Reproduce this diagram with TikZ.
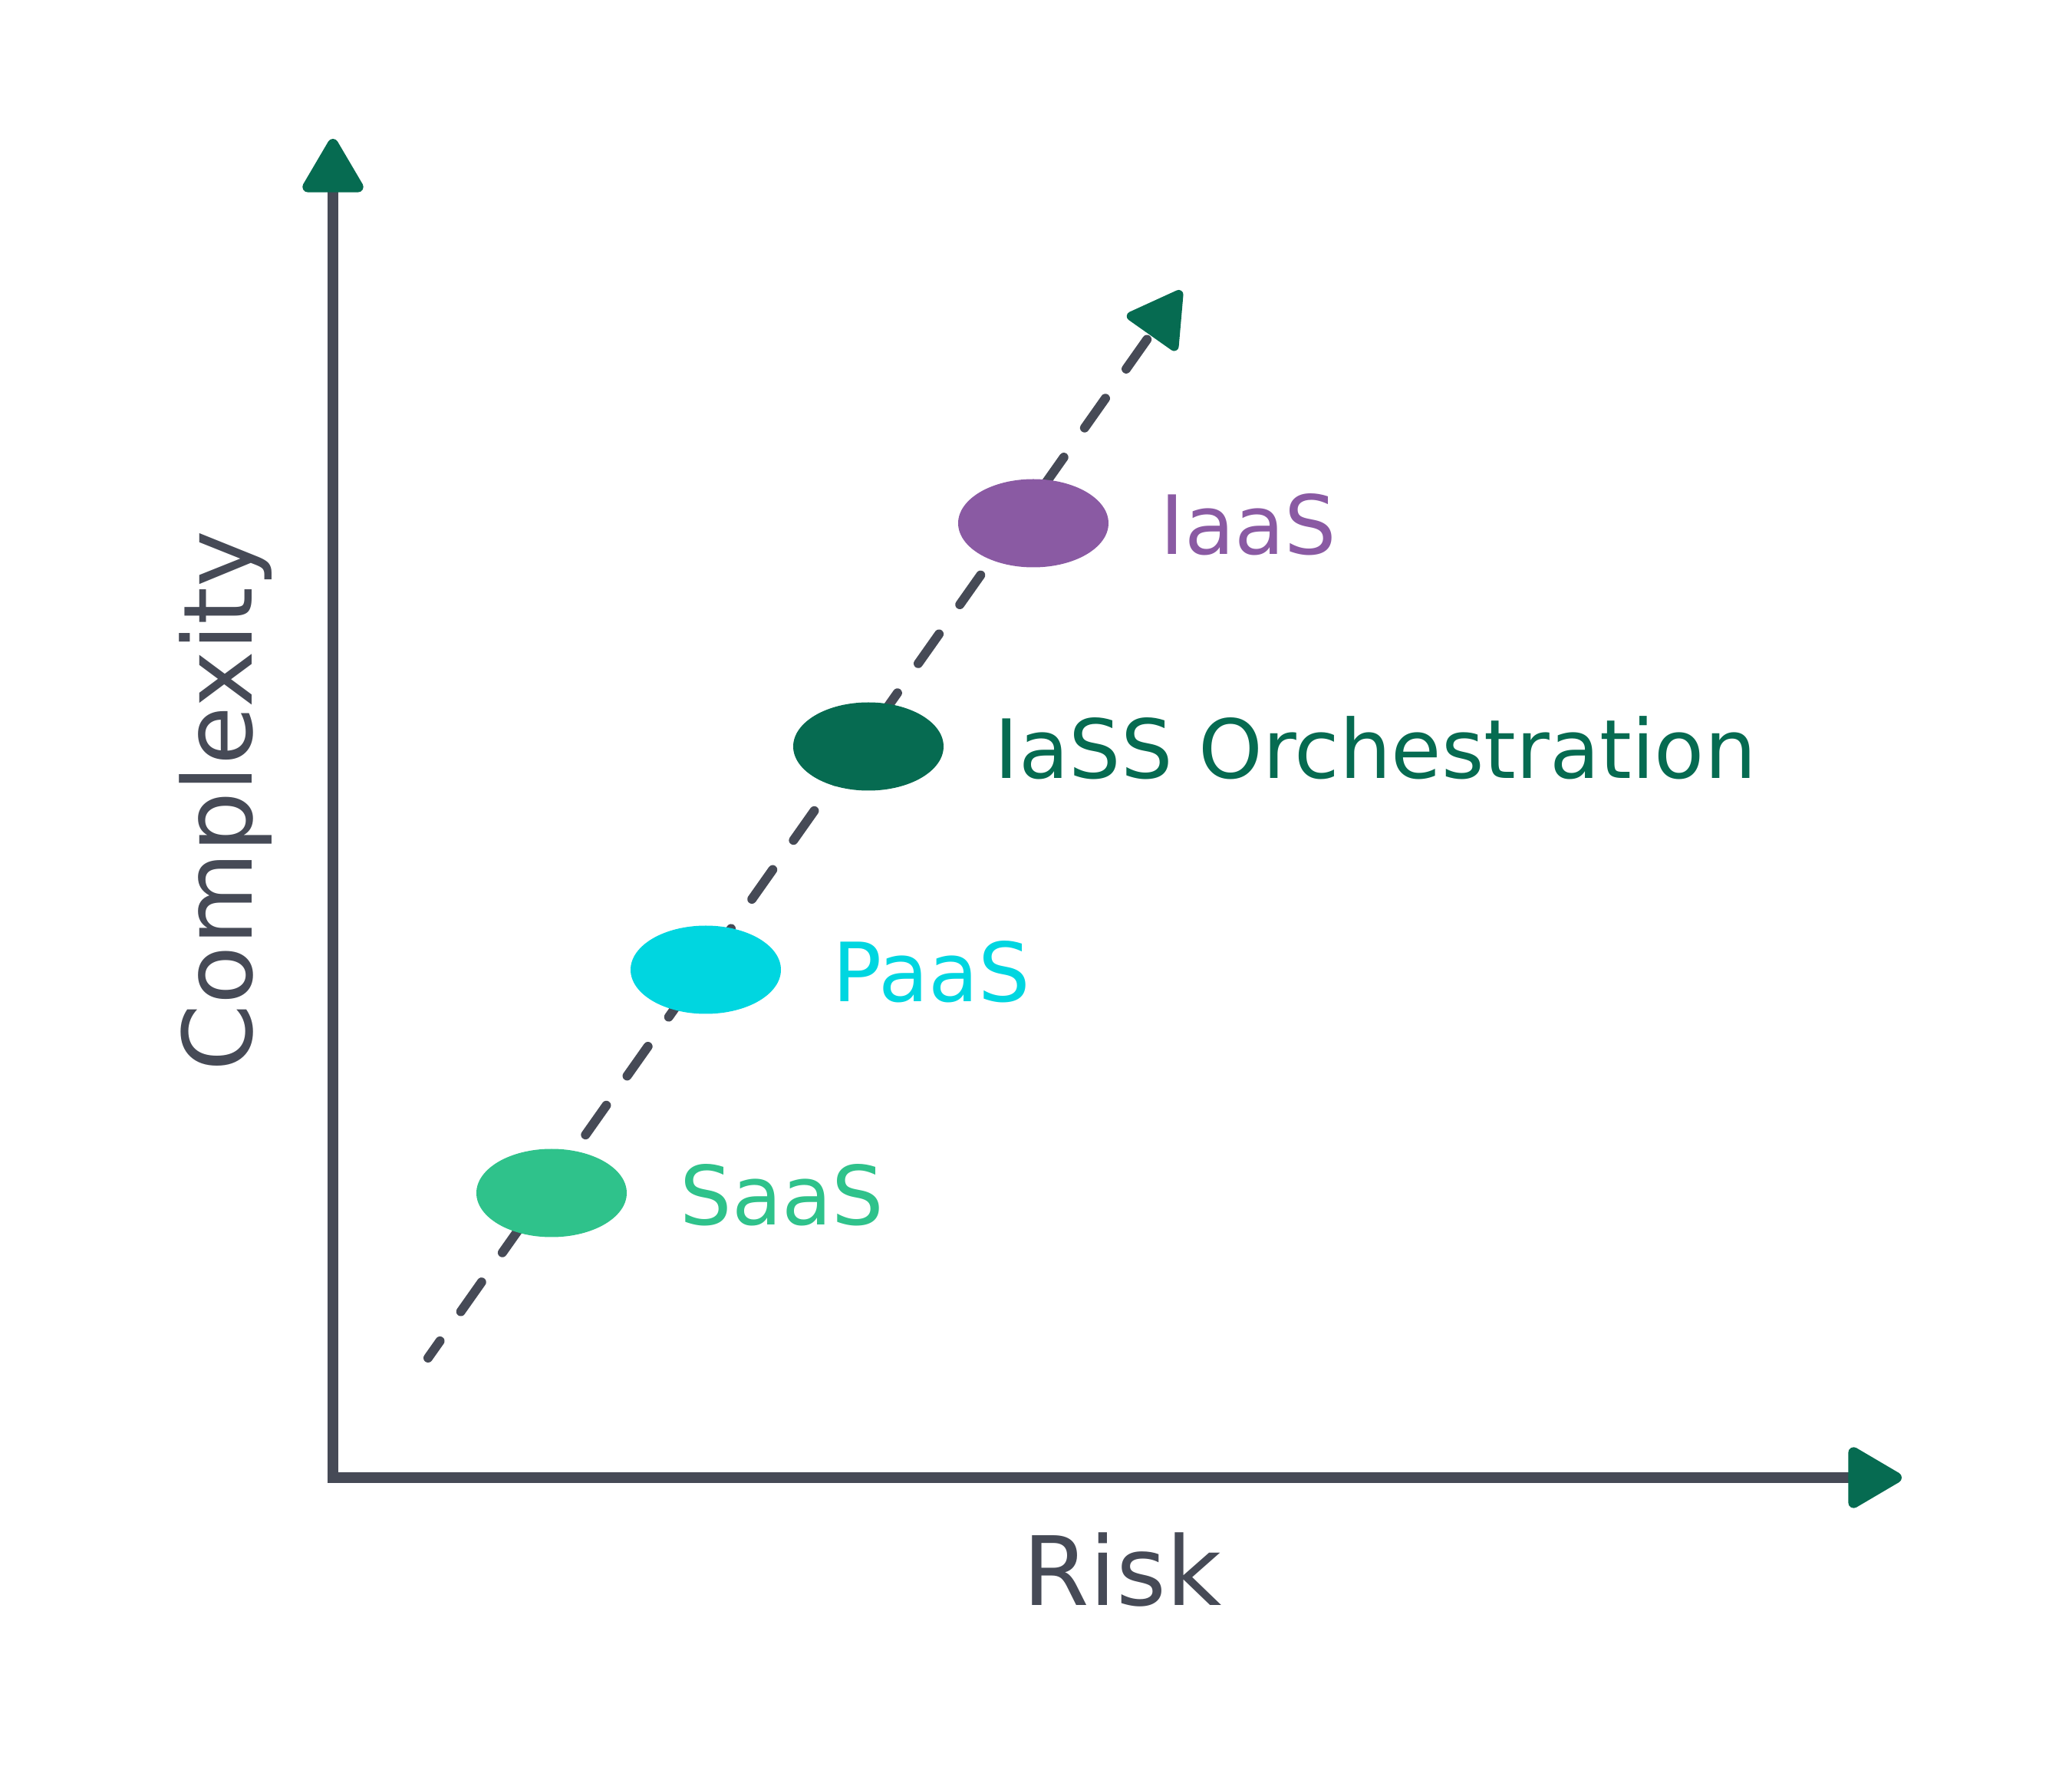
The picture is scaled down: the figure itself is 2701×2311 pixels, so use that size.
\documentclass[tikz,border=0pt]{standalone}
\usepackage{fontspec}
\setmainfont{DejaVu Sans}
\usetikzlibrary{arrows.meta,shapes.geometric}
\definecolor{axisgrey}{HTML}{464A56}
\definecolor{arrowgreen}{HTML}{066B51}
\definecolor{saasgreen}{HTML}{2FC28B}
\definecolor{paascyan}{HTML}{00D6E0}
\definecolor{iaaspurple}{HTML}{8A5AA3}
\tikzset{
  gtip/.tip={Triangle[length=7.7mm,width=8.6mm,round,color=arrowgreen,fill=arrowgreen]},
  axisline/.style={draw=axisgrey,line width=1.4mm,line join=miter,gtip-gtip},
  trendline/.style={draw=axisgrey,line width=1.2mm,line cap=round,dash pattern=on 4.7mm off 4.7mm,dash phase=2mm,-gtip},
  blob/.style={ellipse,draw=none,inner sep=0pt,minimum width=19.6mm,minimum height=11.5mm},
  lbl/.style={anchor=base west,inner sep=0pt,font=\fontsize{30.3pt}{36pt}\selectfont},
  axlbl/.style={anchor=base,inner sep=0pt,text=axisgrey,font=\fontsize{35.5pt}{42pt}\selectfont}
}
\begin{document}
\begin{tikzpicture}[x=0.1mm,y=-0.1mm]
\useasboundingbox (0,0) rectangle (2701,2311);
\coordinate (O) at (434,1926);
\coordinate (ytip) at (434,181);
\coordinate (xtip) at (2479,1926);
\draw[axisline] (ytip) -- (O) -- (xtip);
\coordinate (ds) at (558,1770);
\coordinate (de) at (1540,379);
\draw[trendline] (ds) -- (de);
\node[blob,fill=saasgreen] (saas) at (719,1555) {};
\node[blob,fill=paascyan] (paas) at (920,1264) {};
\node[blob,fill=arrowgreen] (iass) at (1132,973) {};
\node[blob,fill=iaaspurple] (iaas) at (1347,682) {};
\node[lbl,text=saasgreen] (saasl) at (886,1597) {SaaS};
\node[lbl,text=paascyan] (paasl) at (1085,1306) {PaaS};
\node[lbl,text=arrowgreen] (iassl) at (1296,1015) {IaSS Orchestration};
\node[lbl,text=iaaspurple] (iaasl) at (1512,723) {IaaS};
\node[axlbl] (risk) at (1463,2092) {Risk};
\node[axlbl,rotate=90] (cplx) at (328,1044) {Complexity};
\end{tikzpicture}
\end{document}
